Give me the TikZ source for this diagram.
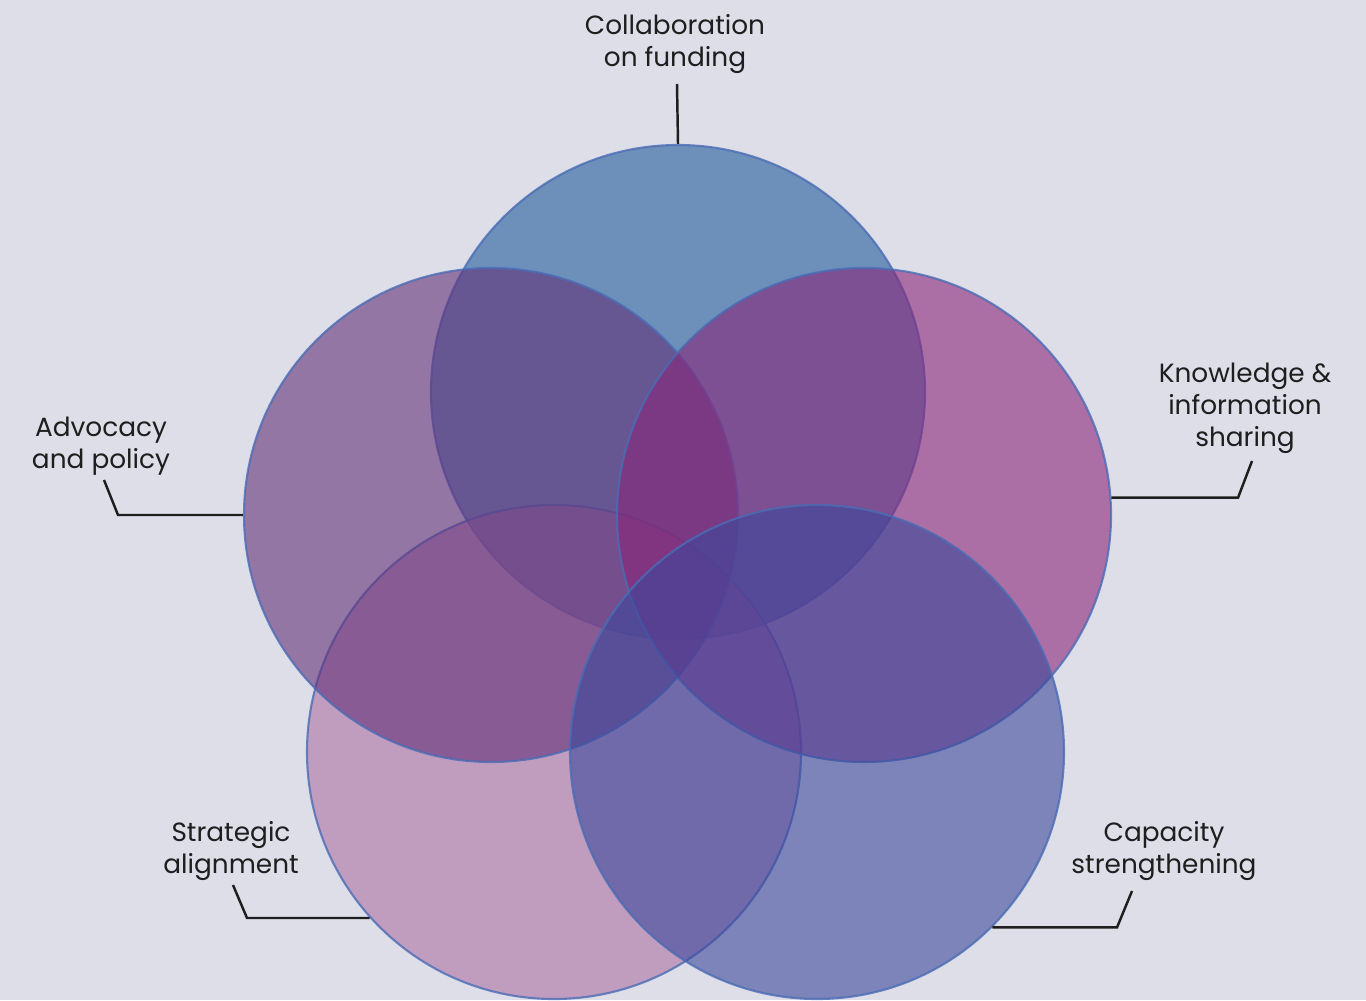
\documentclass[tikz,border=0pt]{standalone}
\usepackage{fontspec}
\setmainfont{Poppins}
\definecolor{bgc}{HTML}{DEDEE9}
\definecolor{cblue}{HTML}{205C9C}
\definecolor{cpurple}{HTML}{633179}
\definecolor{cmagenta}{HTML}{892579}
\definecolor{cpink}{HTML}{AC70A3}
\definecolor{cindigo}{HTML}{3B489C}
\definecolor{rim}{HTML}{4A6CB4}
\definecolor{ink}{HTML}{1E1E1E}
\begin{document}
\begin{tikzpicture}[x=0.2mm,y=-0.2mm,
  petal/.style={circle,inner sep=0pt,minimum size=98.8mm,
    fill=#1,fill opacity=0.6,draw=rim,draw opacity=0.8,line width=1.2pt},
  caption/.style={align=center,text=ink,inner sep=0pt,
    font=\fontsize{15}{18.2}\selectfont},
  leader/.style={draw=ink,line width=1.4pt}]
  % canvas
  \fill[bgc] (0,0) rectangle (1366,1000);
  \useasboundingbox (0,0) rectangle (1366,1000);
  % the five overlapping circles, in stacking order
  \node[petal=cblue]    (fund)  at (678,392) {};
  \node[petal=cpink]    (strat) at (554,752) {};
  \node[petal=cpurple]  (adv)   at (491,515) {};
  \node[petal=cmagenta] (know)  at (864,515) {};
  \node[petal=cindigo]  (cap)   at (817,752) {};
  % captions
  \node[caption] (tfund)  at (675,44)   {Collaboration\\on funding};
  \node[caption] (tknow)  at (1245,408) {Knowledge \&\\information\\sharing};
  \node[caption] (tadv)   at (101,446)  {Advocacy\\and policy};
  \node[caption] (tstrat) at (231,851)  {Strategic\\alignment};
  \node[caption] (tcap)   at (1164,851) {Capacity\\strengthening};
  % leader lines
  \coordinate (kfend) at (677,84);
  \coordinate (kbend) at (1238,495);
  \coordinate (kend)  at (1252,461);
  \coordinate (abend) at (118,515);
  \coordinate (aend)  at (104,480);
  \coordinate (sbend) at (247,919);
  \coordinate (send)  at (233,885);
  \coordinate (cbend) at (1117,925);
  \coordinate (cend)  at (1132,891);
  \draw[leader] (fund.north) -- (kfend);
  \draw[leader] (know.4.6) -- (know.4.6 -| kbend) -- (kend);
  \draw[leader] (adv.west) -- (abend) -- (aend);
  \draw[leader] (strat.222.5) -- (strat.222.5 -| sbend) -- (send);
  \draw[leader] (cap.315.3) -- (cap.315.3 -| cbend) -- (cend);
\end{tikzpicture}
\end{document}
